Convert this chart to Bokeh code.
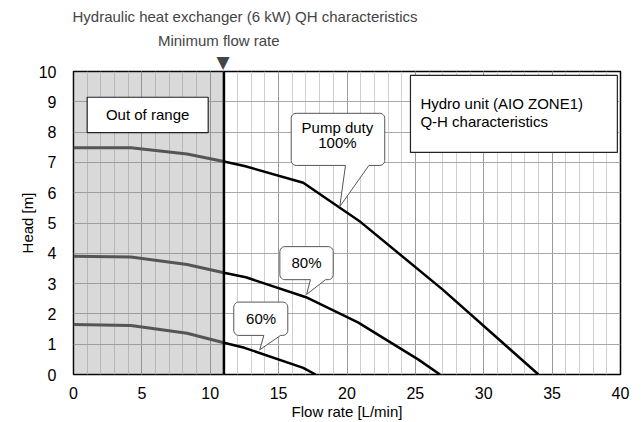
import numpy as np
from bokeh.plotting import figure
from bokeh.models import Range1d, SingleIntervalTicker, Label, BoxAnnotation, Span, Title
from bokeh.embed import file_html
from bokeh.resources import INLINE

# ---- data ----
flow_100 = [0, 4.2, 8.3, 11, 12.5, 16.8, 21, 27, 34]
head_100 = [7.48, 7.48, 7.28, 7.03, 6.88, 6.33, 5.03, 2.8, 0]
flow_80 = [0, 4.2, 8.3, 11, 12.6, 17, 20.8, 25.2, 26.8]
head_80 = [3.9, 3.88, 3.63, 3.36, 3.21, 2.55, 1.72, 0.5, 0]
flow_60 = [0, 4.2, 8.3, 11, 12.5, 16.8, 17.7]
head_60 = [1.65, 1.62, 1.36, 1.05, 0.88, 0.22, 0]
min_flow = 11
x_ticks_interval = 5
y_ticks_interval = 1

FONT = "Liberation Sans"
W, H = 641, 422
ML, MR, MT, MB = 73, 21, 71, 48
XS = (W - ML - MR) / 40.0
YS = (H - MT - MB) / 10.0

p = figure(width=W, height=H, output_backend="svg", toolbar_location=None, title=None,
           x_range=Range1d(0, 40), y_range=Range1d(0, 10),
           min_border_left=ML, min_border_right=MR, min_border_top=MT, min_border_bottom=MB)
p.background_fill_color = "white"
p.border_fill_color = "white"
p.outline_line_color = "black"
p.outline_line_width = 1.5

p.xaxis.ticker = SingleIntervalTicker(interval=x_ticks_interval, num_minor_ticks=5)
p.yaxis.ticker = SingleIntervalTicker(interval=y_ticks_interval, num_minor_ticks=0)
for ax in (p.xaxis, p.yaxis):
    ax.major_tick_line_color = None
    ax.minor_tick_line_color = None
    ax.axis_line_color = None
    ax.major_label_text_font = FONT
    ax.major_label_text_font_size = "16px"
    ax.major_label_text_color = "black"
    ax.axis_label_text_font = FONT
    ax.axis_label_text_font_size = "15px"
    ax.axis_label_text_font_style = "normal"
    ax.axis_label_text_color = "black"
p.xaxis.axis_label = "Flow rate [L/min]"
p.yaxis.axis_label = "Head [m]"
p.xaxis.major_label_standoff = 6
p.xaxis.axis_label_standoff = 1
p.yaxis.major_label_standoff = 11
p.yaxis.axis_label_standoff = 0

p.xgrid.grid_line_color = "#9a9a9a"
p.xgrid.grid_line_width = 1
p.xgrid.minor_grid_line_color = "#cfcfcf"
p.xgrid.minor_grid_line_width = 1
p.ygrid.grid_line_color = "#a8a8a8"
p.ygrid.grid_line_width = 1

# out of range shading
p.add_layout(BoxAnnotation(left=0, right=min_flow, fill_color="#808080", fill_alpha=0.3,
                           line_color=None, level="underlay"))

# curves: gray part below minimum flow, black part above
for fl, hd in ((flow_100, head_100), (flow_80, head_80), (flow_60, head_60)):
    i = fl.index(min_flow)
    p.line(fl[:i + 1], hd[:i + 1], line_color="#555555", line_width=3)
    p.line(fl[i:], hd[i:], line_color="black", line_width=2.5)

# minimum flow line
p.add_layout(Span(location=min_flow, dimension="height", line_color="black", line_width=2.5))


def callout(x0, x1, y0, y1, bx0=None, bx1=None, tx=None, ty=None, r=5.0):
    rx, ry = r / XS, r / YS
    xs, ys = [], []

    def arc(cx, cy, a0, a1):
        t = np.linspace(a0, a1, 7)
        xs.extend(cx + rx * np.cos(t))
        ys.extend(cy + ry * np.sin(t))

    arc(x1 - rx, y1 - ry, np.pi / 2, 0)
    arc(x1 - rx, y0 + ry, 0, -np.pi / 2)
    if tx is not None:
        xs.extend([bx1, tx, bx0])
        ys.extend([y0, ty, y0])
    arc(x0 + rx, y0 + ry, -np.pi / 2, -np.pi)
    arc(x0 + rx, y1 - ry, np.pi, np.pi / 2)
    p.patch(xs, ys, fill_color="white", line_color="#555555", line_width=1)


def rect(x0, x1, y0, y1):
    p.patch([x0, x1, x1, x0], [y0, y0, y1, y1], fill_color="white",
            line_color="#222222", line_width=1.2)


def label(x, y, text, align="center", size="15px", xo=0, yo=0, font=FONT):
    p.add_layout(Label(x=x, y=y, text=text, text_align=align, text_baseline="middle",
                       text_font=font, text_font_size=size, text_color="black",
                       x_offset=xo, y_offset=yo))


# boxes
rect(1.0, 9.85, 7.98, 9.15)
label(5.42, 8.57, "Out of range")
rect(24.64, 39.77, 7.33, 9.87)
label(25.37, 8.94, "Hydro unit (AIO ZONE1)", align="left")
label(25.37, 8.35, "Q-H characteristics", align="left")

# callouts
callout(15.92, 22.76, 6.9, 8.62, 19.89, 21.6, 19.47, 5.54)
label(19.3, 8.16, "Pump duty")
label(19.3, 7.67, "100%")
callout(15.09, 18.99, 3.13, 4.22, 17.33, 18.43, 17.04, 2.64)
label(17.04, 3.69, "80%")
callout(11.72, 15.67, 1.29, 2.39, 13.92, 15.14, 13.62, 0.815)
label(13.72, 1.86, "60%")

# texts above the frame
t_tri = Title(text="\u25BC", align="left", offset=min_flow * XS - 7.5, standoff=0,
              text_font="DejaVu Sans", text_font_size="17px", text_font_style="normal")
t_min = Title(text="Minimum flow rate", align="left", offset=min_flow * XS - 66, standoff=1,
              text_font=FONT, text_font_size="15px", text_font_style="normal")
t_main = Title(text="Hydraulic heat exchanger (6 kW) QH characteristics", align="left",
               offset=-1, standoff=9, text_font=FONT, text_font_size="15px",
               text_font_style="normal")
p.add_layout(t_tri, "above")
p.add_layout(t_min, "above")
p.add_layout(t_main, "above")

open("out.html", "w").write(file_html(p, INLINE))
